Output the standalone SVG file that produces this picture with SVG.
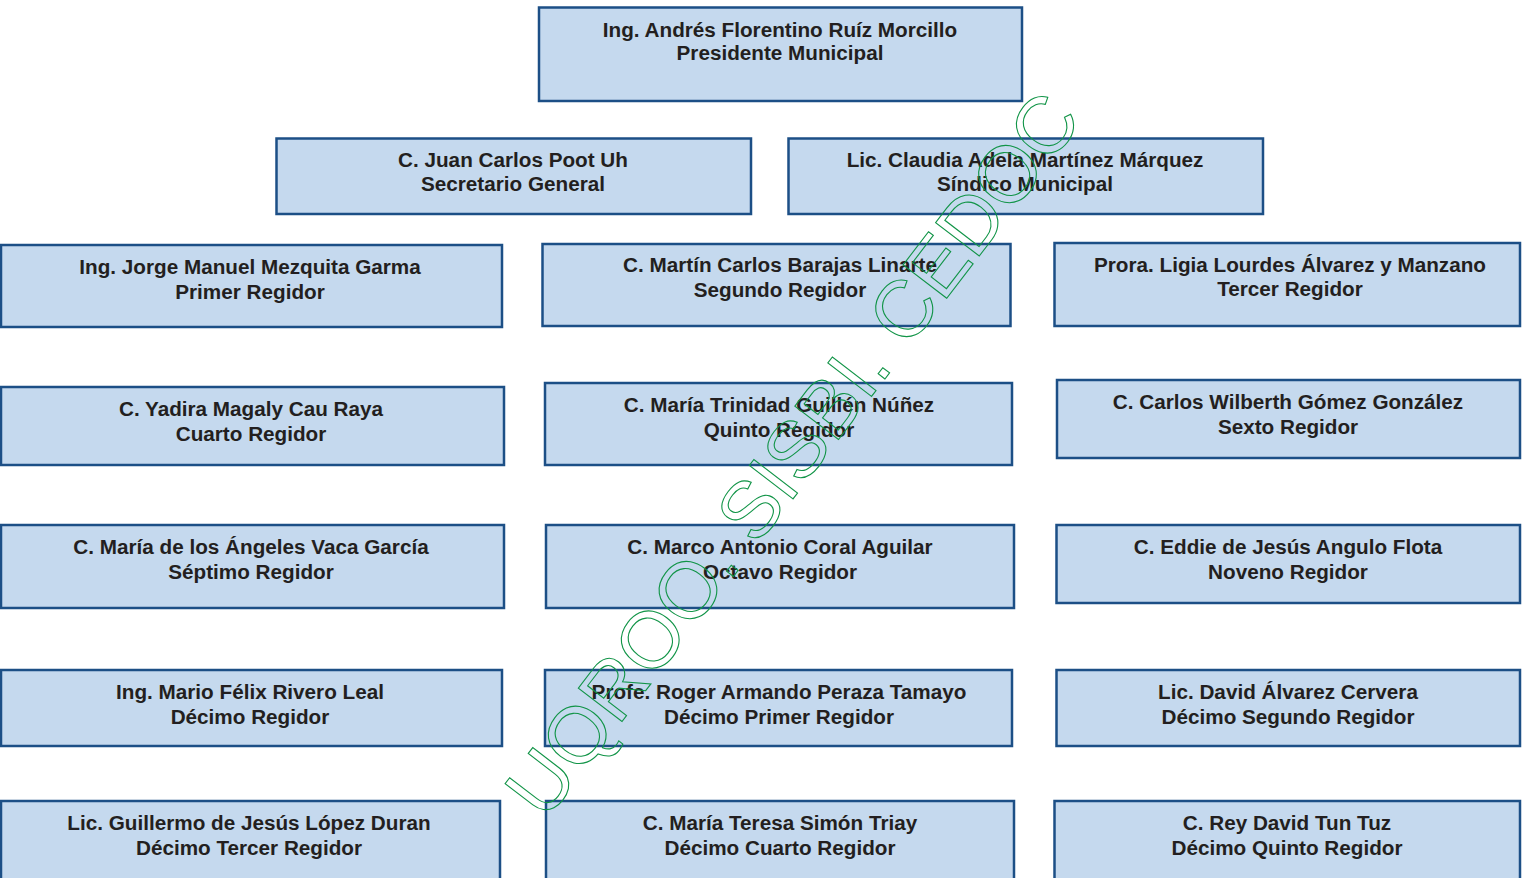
<svg xmlns="http://www.w3.org/2000/svg" width="1528" height="878" viewBox="0 0 1528 878">
<style>
.box{fill:#c5d9ee;stroke:#1c4f86;stroke-width:2.5}
.t{font-family:"Liberation Sans",Arial,sans-serif;font-weight:bold;font-size:20.7px;fill:#231f20;text-anchor:middle}
.wm{font-family:"Liberation Sans",Arial,sans-serif;font-size:80px;fill:none;stroke:#119447;stroke-width:1.1}
</style>
<rect width="1528" height="878" fill="#ffffff"/>
<g id="presidente"><rect class="box" x="539" y="7.5" width="483" height="93.5"/><text class="t" x="780" y="37">Ing. Andrés Florentino Ruíz Morcillo</text><text class="t" x="780" y="60">Presidente Municipal</text></g>
<g id="secretario"><rect class="box" x="276.5" y="138.5" width="474.5" height="75.5"/><text class="t" x="513" y="167">C. Juan Carlos Poot Uh</text><text class="t" x="513" y="191">Secretario General</text></g>
<g id="sindico"><rect class="box" x="788.5" y="138.5" width="474.5" height="75.5"/><text class="t" x="1025" y="167">Lic. Claudia Adela Martínez Márquez</text><text class="t" x="1025" y="191">Síndico Municipal</text></g>
<g id="r1"><rect class="box" x="1" y="245" width="501" height="82"/><text class="t" x="250" y="274">Ing. Jorge Manuel Mezquita Garma</text><text class="t" x="250" y="299">Primer Regidor</text></g>
<g id="r2"><rect class="box" x="542.5" y="244" width="468" height="82"/><text class="t" x="780" y="272">C. Martín Carlos Barajas Linarte</text><text class="t" x="780" y="297">Segundo Regidor</text></g>
<g id="r3"><rect class="box" x="1054.5" y="243" width="465.5" height="83"/><text class="t" x="1290" y="272">Prora. Ligia Lourdes Álvarez y Manzano</text><text class="t" x="1290" y="296">Tercer Regidor</text></g>
<g id="r4"><rect class="box" x="1" y="387" width="503" height="78"/><text class="t" x="251" y="416">C. Yadira Magaly Cau Raya</text><text class="t" x="251" y="441">Cuarto Regidor</text></g>
<g id="r5"><rect class="box" x="545" y="383" width="467" height="82"/><text class="t" x="779" y="412">C. María Trinidad Guillén Núñez</text><text class="t" x="779" y="437">Quinto Regidor</text></g>
<g id="r6"><rect class="box" x="1057" y="380" width="463" height="78"/><text class="t" x="1288" y="409">C. Carlos Wilberth Gómez González</text><text class="t" x="1288" y="434">Sexto Regidor</text></g>
<g id="r7"><rect class="box" x="1" y="525" width="503" height="83"/><text class="t" x="251" y="554">C. María de los Ángeles Vaca García</text><text class="t" x="251" y="579">Séptimo Regidor</text></g>
<g id="r8"><rect class="box" x="546" y="525" width="468" height="83"/><text class="t" x="780" y="554">C. Marco Antonio Coral Aguilar</text><text class="t" x="780" y="579">Octavo Regidor</text></g>
<g id="r9"><rect class="box" x="1056.5" y="525" width="463.5" height="78"/><text class="t" x="1288" y="554">C. Eddie de Jesús Angulo Flota</text><text class="t" x="1288" y="579">Noveno Regidor</text></g>
<g id="r10"><rect class="box" x="1" y="670" width="501" height="76"/><text class="t" x="250" y="699">Ing. Mario Félix Rivero Leal</text><text class="t" x="250" y="724">Décimo Regidor</text></g>
<g id="r11"><rect class="box" x="545" y="670" width="467" height="76"/><text class="t" x="779" y="699">Profe. Roger Armando Peraza Tamayo</text><text class="t" x="779" y="724">Décimo Primer Regidor</text></g>
<g id="r12"><rect class="box" x="1056.5" y="670" width="463.5" height="76"/><text class="t" x="1288" y="699">Lic. David Álvarez Cervera</text><text class="t" x="1288" y="724">Décimo Segundo Regidor</text></g>
<g id="r13"><rect class="box" x="1" y="801" width="499" height="90"/><text class="t" x="249" y="830">Lic. Guillermo de Jesús López Duran</text><text class="t" x="249" y="855">Décimo Tercer Regidor</text></g>
<g id="r14"><rect class="box" x="546" y="801" width="468" height="90"/><text class="t" x="780" y="830">C. María Teresa Simón Triay</text><text class="t" x="780" y="855">Décimo Cuarto Regidor</text></g>
<g id="r15"><rect class="box" x="1054.5" y="801" width="465.5" height="90"/><text class="t" x="1287" y="830">C. Rey David Tun Tuz</text><text class="t" x="1287" y="855">Décimo Quinto Regidor</text></g>
<g id="watermark"><text class="wm" transform="translate(545,822) rotate(-52.5)">UQROO. SISBI. CEDOC</text></g>
</svg>
